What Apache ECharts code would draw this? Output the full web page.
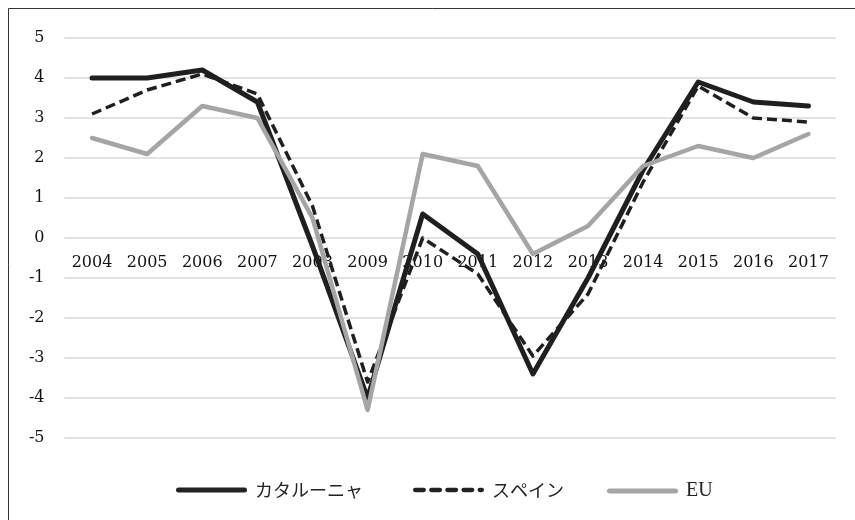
<!DOCTYPE html>
<html>
<head>
<meta charset="utf-8">
<script src="https://cdn.jsdelivr.net/npm/echarts@6/dist/echarts.min.js"></script>
<style>
html,body{margin:0;padding:0;background:#fff;}
#chart{width:855px;height:520px;}
</style>
</head>
<body>
<div id="chart"></div>
<script>
const years = ['2004','2005','2006','2007','2008','2009','2010','2011','2012','2013','2014','2015','2016','2017'];
const catalonia = [4.0, 4.0, 4.2, 3.4, -0.2, -4.0, 0.6, -0.4, -3.4, -1.0, 1.7, 3.9, 3.4, 3.3];
const spain = [3.1, 3.7, 4.1, 3.6, 0.8, -3.6, 0.0, -0.9, -2.95, -1.4, 1.4, 3.8, 3.0, 2.9];
const eu = [2.5, 2.1, 3.3, 3.0, 0.5, -4.3, 2.1, 1.8, -0.4, 0.3, 1.8, 2.3, 2.0, 2.6];
const seriesNames = ['カタルーニャ', 'スペイン', 'EU'];
const yTicks = [-5, 5, 1];

const serif = "'DejaVu Serif', 'Liberation Serif', serif";
const jp = "'Noto Sans CJK JP', 'Liberation Serif', serif";
const solidIcon = 'path://M2.5,0H68.5A2.5,2.5,0,0,1,68.5,5H2.5A2.5,2.5,0,0,1,2.5,0Z';
const dashIcon = 'path://M2,0H10A2,2,0,0,1,10,4H2A2,2,0,0,1,2,0Z M17,0H25A2,2,0,0,1,25,4H17A2,2,0,0,1,17,0Z M32,0H40A2,2,0,0,1,40,4H32A2,2,0,0,1,32,0Z M47,0H55A2,2,0,0,1,55,4H47A2,2,0,0,1,47,0Z M62,0H64A2,2,0,0,1,64,4H62A2,2,0,0,1,62,0Z';

function legendAt(left, name, icon, color, font, size) {
  return {
    top: 476, left: left,
    itemWidth: 71, itemHeight: 5,
    textStyle: { fontFamily: font, fontSize: size, color: '#222', padding: [0, 0, 0, 3] },
    data: [{ name: name, icon: icon, itemStyle: { color: color } }]
  };
}

const chart = echarts.init(document.getElementById('chart'));
chart.setOption({
  animation: false,
  backgroundColor: '#fff',
  textStyle: { fontFamily: serif },
  graphic: [{
    type: 'rect',
    shape: { x: 8.5, y: 8.5, width: 900, height: 600 },
    style: { fill: 'none', stroke: '#333', lineWidth: 1 },
    silent: true
  }],
  grid: { left: 64.5, right: 19, top: 38, height: 400 },
  legend: [
    legendAt(171, seriesNames[0], solidIcon, '#222', jp, 18),
    legendAt(408, seriesNames[1], dashIcon, '#222', jp, 18),
    legendAt(602, seriesNames[2], solidIcon, '#a5a5a5', "'Liberation Serif', serif", 20)
  ],
  xAxis: {
    type: 'category',
    data: years,
    axisLine: { show: false, onZero: false },
    axisTick: { show: false },
    axisLabel: { fontFamily: serif, fontSize: 16, color: '#111', margin: -183 }
  },
  yAxis: {
    type: 'value',
    min: yTicks[0], max: yTicks[1], interval: yTicks[2],
    axisLine: { show: false },
    axisTick: { show: false },
    axisLabel: { fontFamily: serif, fontSize: 16, color: '#111', margin: 20 },
    splitLine: { lineStyle: { color: '#d9d9d9', width: 1.5 } }
  },
  series: [
    { name: seriesNames[0], type: 'line', data: catalonia, symbol: 'none',
      lineStyle: { color: '#1f1f1f', width: 5, cap: 'round', join: 'round' }, itemStyle: { color: '#1f1f1f' } },
    { name: seriesNames[1], type: 'line', data: spain, symbol: 'none',
      lineStyle: { color: '#1f1f1f', width: 3.5, type: [10, 5], cap: 'butt', join: 'round' }, itemStyle: { color: '#1f1f1f' } },
    { name: seriesNames[2], type: 'line', data: eu, symbol: 'none',
      lineStyle: { color: '#a5a5a5', width: 4.5, cap: 'round', join: 'round' }, itemStyle: { color: '#a5a5a5' } }
  ]
});
</script>
</body>
</html>
